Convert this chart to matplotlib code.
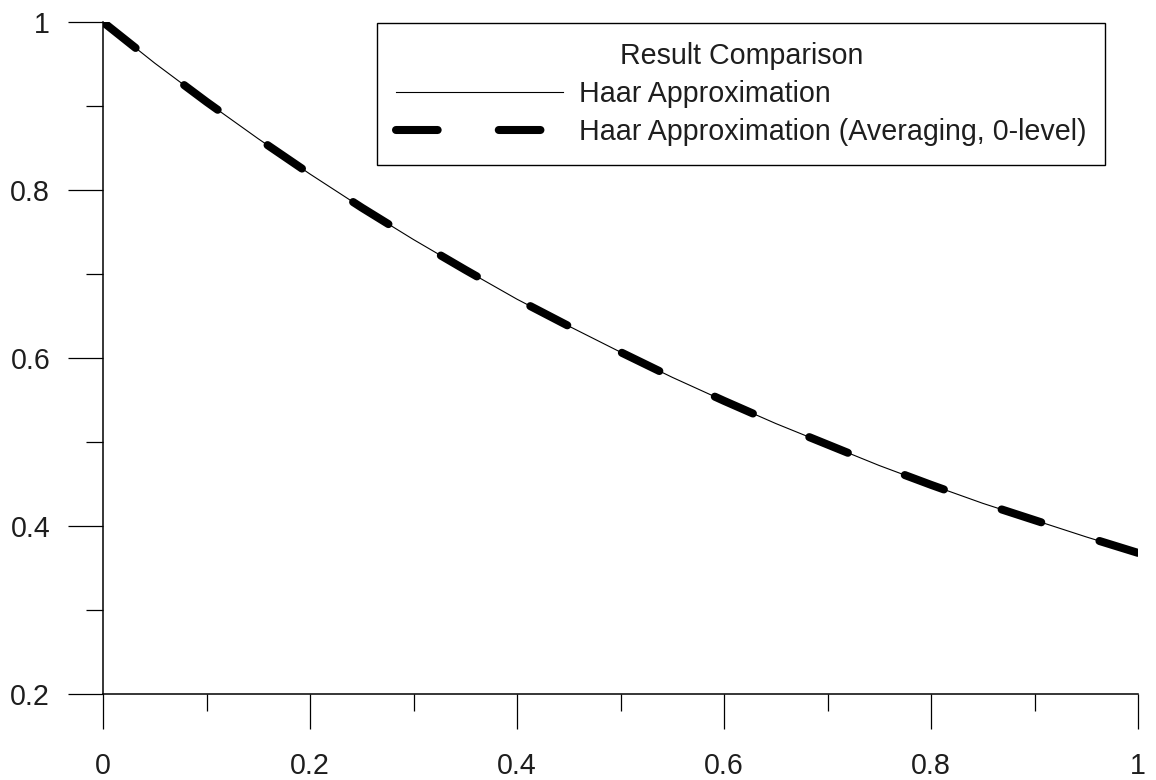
import matplotlib
matplotlib.use("Agg")
import matplotlib.pyplot as plt
from matplotlib.ticker import MultipleLocator

plt.rcParams["font.family"] = ["Liberation Sans", "DejaVu Sans"]
plt.rcParams["lines.scale_dashes"] = False

# Sampled solution values
x_vals = [0.00, 0.05, 0.10, 0.15, 0.20, 0.25, 0.30, 0.35, 0.40, 0.45, 0.50,
          0.55, 0.60, 0.65, 0.70, 0.75, 0.80, 0.85, 0.90, 0.95, 1.00]
haar = [1.000, 0.951, 0.905, 0.861, 0.819, 0.779, 0.741, 0.705, 0.670, 0.638, 0.607,
        0.577, 0.549, 0.522, 0.497, 0.472, 0.449, 0.427, 0.407, 0.387, 0.368]
haar_avg = [1.000, 0.951, 0.905, 0.861, 0.819, 0.779, 0.741, 0.705, 0.670, 0.638, 0.607,
            0.577, 0.549, 0.522, 0.497, 0.472, 0.449, 0.427, 0.407, 0.387, 0.368]

x_ticks = [0, 0.2, 0.4, 0.6, 0.8, 1]
x_labels = ["0", "0.2", "0.4", "0.6", "0.8", "1"]
y_ticks = [0.2, 0.4, 0.6, 0.8, 1]
y_labels = ["0.2", "0.4", "0.6", "0.8", "1"]

W, H = 1156, 780
fig = plt.figure(figsize=(W / 100, H / 100), dpi=100)
fig.patch.set_facecolor("white")
ax = fig.add_axes([103 / W, 1 - 694 / H, (1138 - 103) / W, (694 - 22) / H])

text_color = "#1e1e1e"
fs = 20.6

ax.plot(x_vals, haar, color="black", lw=0.8, label="Haar Approximation", zorder=3)
ax.plot(x_vals, haar_avg, color="black", lw=5.8, dashes=(30, 44),
        dash_capstyle="round", label="Haar Approximation (Averaging, 0-level)", zorder=2)

ax.set_xlim(0, 1)
ax.set_ylim(0.2, 1)
for s in ("top", "right"):
    ax.spines[s].set_visible(False)
for s in ("left", "bottom"):
    ax.spines[s].set_linewidth(1.1)
    ax.spines[s].set_color("black")

ax.set_xticks(x_ticks)
ax.set_xticklabels(x_labels)
ax.set_yticks(y_ticks)
ax.set_yticklabels(y_labels)
ax.xaxis.set_minor_locator(MultipleLocator(0.1))
ax.yaxis.set_minor_locator(MultipleLocator(0.1))

ax.tick_params(axis="both", which="major", direction="out", length=25, width=0.9,
               color="black", labelsize=fs, labelcolor=text_color)
ax.tick_params(axis="both", which="minor", direction="out", length=12.5, width=0.9,
               color="black")
ax.tick_params(axis="x", which="major", pad=17)
ax.tick_params(axis="y", which="major", pad=13)

leg = ax.legend(loc="upper left", bbox_to_anchor=(377 / W, 1 - 23 / H),
                bbox_transform=fig.transFigure, borderaxespad=0,
                title="Result Comparison", fontsize=fs, title_fontsize=fs,
                frameon=True, fancybox=False, shadow=False, edgecolor="black",
                framealpha=1, handlelength=5.84, handletextpad=0.56,
                borderpad=0.66, labelspacing=0.36)
leg.get_frame().set_linewidth(1.0)
for t in leg.get_texts():
    t.set_color(text_color)
leg.get_title().set_color(text_color)

fig.savefig("out.png", dpi=100, facecolor="white")
